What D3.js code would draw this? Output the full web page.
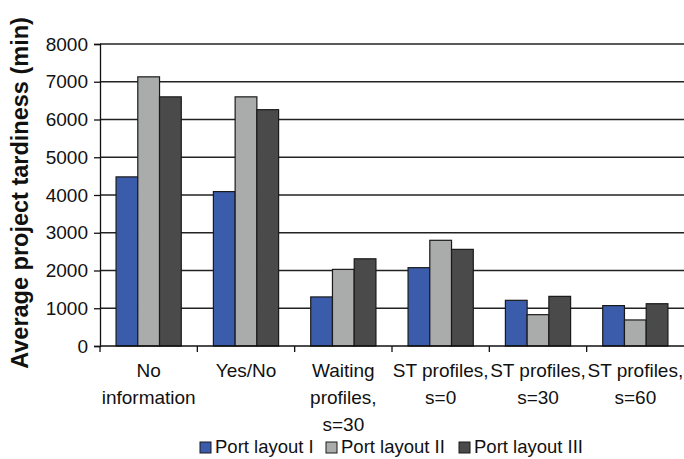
<!DOCTYPE html>
<html>
<head>
<meta charset="utf-8">
<script src="https://cdn.jsdelivr.net/npm/d3@7"></script>
<style>
  body { margin: 0; background: #fff; }
  text { font-family: "Liberation Sans", Arial, sans-serif; fill: #111; }
</style>
</head>
<body>
<script>
const categories = [
  ["No", "information"],
  ["Yes/No"],
  ["Waiting", "profiles,", "s=30"],
  ["ST profiles,", "s=0"],
  ["ST profiles,", "s=30"],
  ["ST profiles,", "s=60"]
];
const seriesNames = ["Port layout I", "Port layout II", "Port layout III"];
const layout1 = [4480, 4090, 1300, 2075, 1210, 1070];
const layout2 = [7130, 6600, 2030, 2800, 830, 690];
const layout3 = [6600, 6260, 2310, 2560, 1315, 1120];
const yTicks = [0, 1000, 2000, 3000, 4000, 5000, 6000, 7000, 8000];
const colors = ["#3b5bab", "#aaacab", "#4a4a4a"];

const W = 684, H = 459;
const m = { left: 100, right: 0, top: 44, bottom: 113 };

const svg = d3.select("body").append("svg")
    .attr("width", W)
    .attr("height", H);

const x = d3.scaleBand()
    .domain(d3.range(categories.length))
    .range([m.left, W - m.right])
    .paddingInner(0.33)
    .paddingOuter(0.165);

const xStep = d3.scaleBand()
    .domain(d3.range(categories.length))
    .range([m.left, W - m.right]);

const xs = d3.scaleBand()
    .domain(d3.range(3))
    .range([0, x.bandwidth()]);

const y = d3.scaleLinear()
    .domain([0, 8000])
    .range([H - m.bottom, m.top]);

// gridlines
svg.append("g")
    .selectAll("line")
    .data(yTicks.slice(1))
    .join("line")
    .attr("x1", m.left)
    .attr("x2", W)
    .attr("y1", d => y(d))
    .attr("y2", d => y(d))
    .attr("stroke", "#222")
    .attr("stroke-width", 1.3);

// y axis
const yAxis = svg.append("g")
    .attr("transform", `translate(${m.left},0)`)
    .call(d3.axisLeft(y).tickValues(yTicks).tickSize(6).tickPadding(6).tickFormat(d3.format("d")));
yAxis.selectAll("text").style("font-size", "19px").attr("fill", "#111");
yAxis.selectAll("line, path").attr("stroke", "#111").attr("stroke-width", 1.3);

// bars
const all = [layout1, layout2, layout3];
all.forEach((vals, s) => {
  svg.append("g")
    .selectAll("rect")
    .data(vals)
    .join("rect")
    .attr("x", (d, i) => x(i) + xs(s))
    .attr("y", d => y(d))
    .attr("width", xs.bandwidth())
    .attr("height", d => y(0) - y(d))
    .attr("fill", colors[s])
    .attr("stroke", "#1a1a1a")
    .attr("stroke-width", 1.2);
});

// x axis
svg.append("line")
    .attr("x1", m.left).attr("x2", W)
    .attr("y1", y(0)).attr("y2", y(0))
    .attr("stroke", "#111").attr("stroke-width", 1.5);
svg.append("g")
    .selectAll("line")
    .data(d3.range(categories.length))
    .join("line")
    .attr("x1", d => xStep(d)).attr("x2", d => xStep(d))
    .attr("y1", y(0)).attr("y2", y(0) + 6)
    .attr("stroke", "#111").attr("stroke-width", 1.3);

// category labels
const lab = svg.append("g")
    .selectAll("text")
    .data(categories)
    .join("text")
    .attr("text-anchor", "middle")
    .style("font-size", "19px")
    .attr("transform", (d, i) => `translate(${xStep(i) + xStep.bandwidth() / 2},${y(0) + 31})`);
lab.selectAll("tspan")
    .data(d => d)
    .join("tspan")
    .attr("x", 0)
    .attr("dy", (d, i) => i === 0 ? 0 : 27)
    .text(d => d);

// y title
svg.append("text")
    .attr("transform", `translate(28,193) rotate(-90)`)
    .attr("text-anchor", "middle")
    .style("font-size", "23.5px")
    .style("font-weight", "bold")
    .text("Average project tardiness (min)");

// legend
const legX = [200, 326, 459];
const leg = svg.append("g")
    .selectAll("g")
    .data(seriesNames)
    .join("g")
    .attr("transform", (d, i) => `translate(${legX[i]},442)`);
leg.append("rect")
    .attr("width", 11).attr("height", 11)
    .attr("fill", (d, i) => colors[i])
    .attr("stroke", "#1a1a1a").attr("stroke-width", 1);
leg.append("text")
    .attr("x", 15).attr("y", 11)
    .style("font-size", "18.5px")
    .text(d => d);
</script>
</body>
</html>
